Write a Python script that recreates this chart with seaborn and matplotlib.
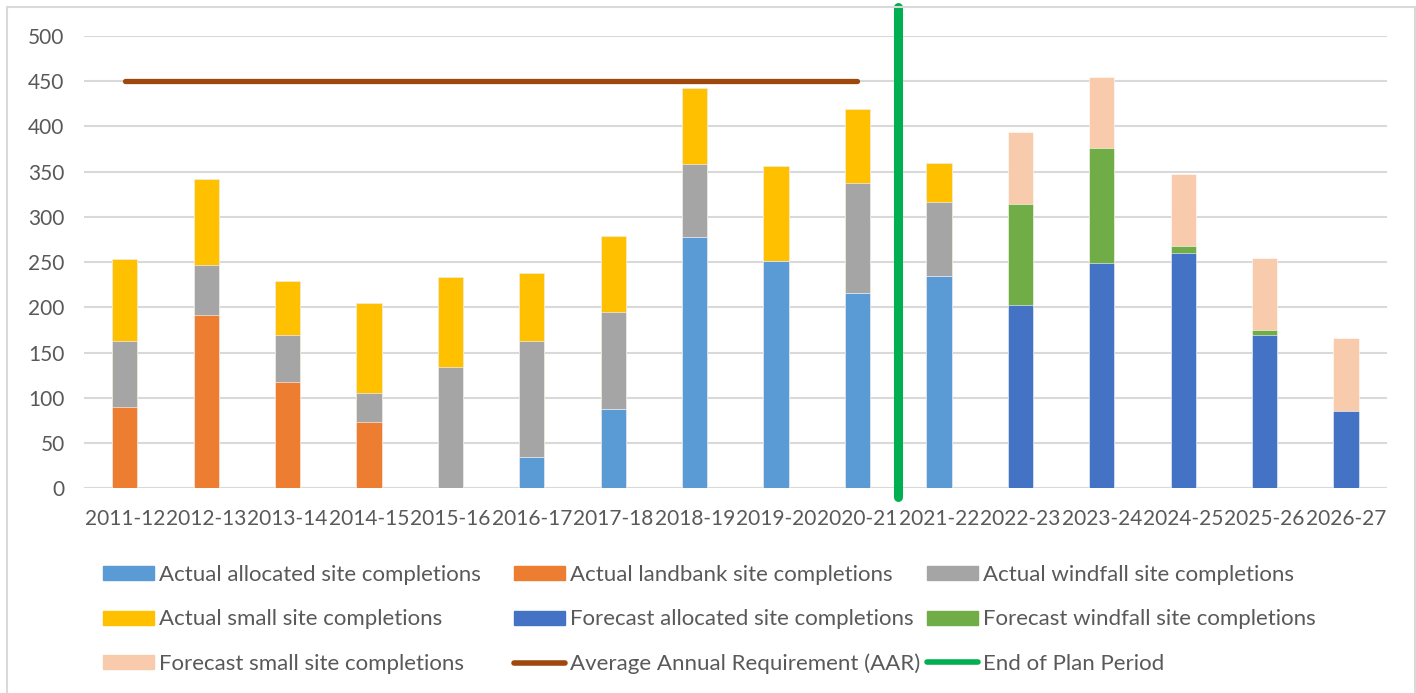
import matplotlib.pyplot as plt
import matplotlib.patches as mpatches
from matplotlib.lines import Line2D
import seaborn as sns
import numpy as np

## Data
years = ["2011-12", "2012-13", "2013-14", "2014-15", "2015-16", "2016-17", "2017-18", "2018-19",
         "2019-20", "2020-21", "2021-22", "2022-23", "2023-24", "2024-25", "2025-26", "2026-27"]
actual_allocated = [0, 0, 0, 0, 0, 35, 88, 278, 251, 216, 235, 0, 0, 0, 0, 0]
actual_landbank = [90, 192, 117, 73, 0, 0, 0, 0, 0, 0, 0, 0, 0, 0, 0, 0]
actual_windfall = [73, 55, 53, 32, 134, 128, 107, 81, 0, 121, 81, 0, 0, 0, 0, 0]
actual_small = [91, 95, 59, 100, 100, 75, 84, 84, 105, 82, 44, 0, 0, 0, 0, 0]
forecast_allocated = [0, 0, 0, 0, 0, 0, 0, 0, 0, 0, 0, 203, 249, 260, 170, 86]
forecast_windfall = [0, 0, 0, 0, 0, 0, 0, 0, 0, 0, 0, 111, 127, 8, 5, 0]
forecast_small = [0, 0, 0, 0, 0, 0, 0, 0, 0, 0, 0, 80, 79, 79, 80, 80]
aar = [450] * 10
end_of_plan_between = ("2020-21", "2021-22")

series_names = ["Actual allocated site completions", "Actual landbank site completions",
                "Actual windfall site completions", "Actual small site completions",
                "Forecast allocated site completions", "Forecast windfall site completions",
                "Forecast small site completions"]
series_values = [actual_allocated, actual_landbank, actual_windfall, actual_small,
                 forecast_allocated, forecast_windfall, forecast_small]
series_colors = ["#5B9BD5", "#ED7D31", "#A5A5A5", "#FFC000", "#4472C4", "#70AD47", "#F8CBAD"]
aar_color = "#9E480E"
end_color = "#00B050"
text_color = "#595959"
grid_color = "#D9D9D9"

## Setup
sns.set_theme(style="white")
plt.rcParams['font.family'] = ['Lato', 'DejaVu Sans']
fig = plt.figure(figsize=(14.16, 6.93), dpi=100)
fig.set_facecolor("white")
ax = fig.add_axes([84 / 1416, 1 - 488.3 / 693, (1386.7 - 84) / 1416, (488.3 - 36) / 693])

## Plot stacked bars (cumulative totals, drawn top layer first)
cumulative = np.cumsum(np.array(series_values), axis=0)
for i in range(len(series_values) - 1, -1, -1):
    sns.barplot(x=years, y=cumulative[i], color=series_colors[i], saturation=1,
                width=0.31, ax=ax, edgecolor="white", linewidth=0.4, zorder=2)

ax.plot(np.arange(len(aar)), aar, color=aar_color, lw=3.8, solid_capstyle="round", zorder=3)
end_x = (years.index(end_of_plan_between[0]) + years.index(end_of_plan_between[1])) / 2
ax.axvline(end_x, ymin=-0.02, ymax=1.064, color=end_color, lw=6.5, clip_on=False, zorder=4)

## Format
ax.set_ylim(0, 500)
ax.set_xlim(-0.5, len(years) - 0.5)
ax.set_yticks(np.arange(0, 501, 50))
ax.yaxis.grid(True, color=grid_color, lw=1.5, zorder=0)
ax.set_axisbelow(True)
sns.despine(ax=ax, left=True, bottom=True)
ax.tick_params(axis="y", length=0, pad=14, labelsize=15, labelcolor=text_color)
ax.tick_params(axis="x", length=0, pad=15, labelsize=15, labelcolor=text_color)
ax.set_xlabel("")
ax.set_ylabel("")

## Legend (Excel lays it out row by row in three equal columns)
handles = [mpatches.Patch(color=c) for c in series_colors]
handles += [Line2D([], [], color=aar_color, lw=4, solid_capstyle="round"),
            Line2D([], [], color=end_color, lw=4, solid_capstyle="round")]
labels = series_names + ["Average Annual Requirement (AAR)", "End of Plan Period"]
col_x = [103, 514, 927]
for c, x in enumerate(col_x):
    fig.legend(handles[c::3], labels[c::3], loc="upper left",
               bbox_to_anchor=(x / 1416, 1 - 565 / 693), frameon=False,
               fontsize=16, labelcolor=text_color, handlelength=2.3, handleheight=0.59,
               handletextpad=0.23, labelspacing=1.10, borderpad=0, borderaxespad=0)

## Chart border
fig.add_artist(mpatches.Rectangle((7 / 1416, -0.01), 1408 / 1416, 1 - 7 / 693 + 0.01,
                                  transform=fig.transFigure, fill=False, ec=grid_color, lw=1.5))

fig.savefig("out.png", dpi=100)
